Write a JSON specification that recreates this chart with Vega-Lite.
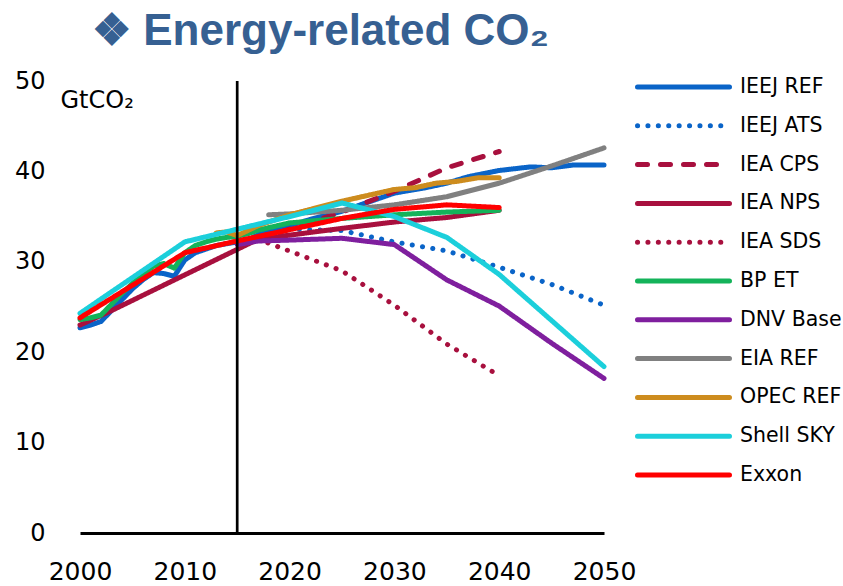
{
  "$schema": "https://vega.github.io/schema/vega-lite/v6.json",
  "width": 524,
  "height": 452,
  "autosize": {"type": "none"},
  "padding": {"left": 80, "top": 81, "right": 239, "bottom": 53},
  "background": "white",
  "title": {"text": "❖ Energy-related CO₂", "anchor": "start", "frame": "group", "font": "Liberation Sans", "fontSize": 44, "fontWeight": "bold", "color": "#366092", "baseline": "alphabetic", "offset": 24, "dx": 12, "dy": 44},
  "config": {"view": {"stroke": null}, "axis": {"grid": false, "ticks": false, "tickSize": 0, "labelFont": "DejaVu Sans", "labelColor": "#000", "titleColor": "#000"}},
  "layer": [
    {
      "data": {"values": [
        {"s": "IEEJ REF", "year": 2000, "v": 22.7}, {"s": "IEEJ REF", "year": 2001, "v": 23.0}, {"s": "IEEJ REF", "year": 2002, "v": 23.4}, {"s": "IEEJ REF", "year": 2003, "v": 24.6}, {"s": "IEEJ REF", "year": 2004, "v": 25.8}, {"s": "IEEJ REF", "year": 2005, "v": 27.0}, {"s": "IEEJ REF", "year": 2006, "v": 28.0}, {"s": "IEEJ REF", "year": 2007, "v": 28.8}, {"s": "IEEJ REF", "year": 2008, "v": 28.7}, {"s": "IEEJ REF", "year": 2009, "v": 28.4}, {"s": "IEEJ REF", "year": 2010, "v": 30.2}, {"s": "IEEJ REF", "year": 2011, "v": 31.0}, {"s": "IEEJ REF", "year": 2012, "v": 31.4}, {"s": "IEEJ REF", "year": 2013, "v": 31.8}, {"s": "IEEJ REF", "year": 2014, "v": 32.0}, {"s": "IEEJ REF", "year": 2015, "v": 32.2}, {"s": "IEEJ REF", "year": 2016, "v": 32.4}, {"s": "IEEJ REF", "year": 2017, "v": 33.0}, {"s": "IEEJ REF", "year": 2020, "v": 34.0}, {"s": "IEEJ REF", "year": 2022, "v": 34.7}, {"s": "IEEJ REF", "year": 2025, "v": 35.6}, {"s": "IEEJ REF", "year": 2028, "v": 36.8}, {"s": "IEEJ REF", "year": 2030, "v": 37.6}, {"s": "IEEJ REF", "year": 2033, "v": 38.2}, {"s": "IEEJ REF", "year": 2035, "v": 38.7}, {"s": "IEEJ REF", "year": 2037, "v": 39.4}, {"s": "IEEJ REF", "year": 2040, "v": 40.1}, {"s": "IEEJ REF", "year": 2043, "v": 40.5}, {"s": "IEEJ REF", "year": 2045, "v": 40.4}, {"s": "IEEJ REF", "year": 2047, "v": 40.7}, {"s": "IEEJ REF", "year": 2050, "v": 40.7},
        {"s": "IEEJ ATS", "year": 2017, "v": 33.0}, {"s": "IEEJ ATS", "year": 2020, "v": 33.6}, {"s": "IEEJ ATS", "year": 2025, "v": 33.45}, {"s": "IEEJ ATS", "year": 2030, "v": 32.2}, {"s": "IEEJ ATS", "year": 2035, "v": 31.2}, {"s": "IEEJ ATS", "year": 2040, "v": 29.4}, {"s": "IEEJ ATS", "year": 2045, "v": 27.5}, {"s": "IEEJ ATS", "year": 2050, "v": 25.2},
        {"s": "IEA CPS", "year": 2017, "v": 32.5}, {"s": "IEA CPS", "year": 2025, "v": 35.5}, {"s": "IEA CPS", "year": 2030, "v": 37.8}, {"s": "IEA CPS", "year": 2035, "v": 40.4}, {"s": "IEA CPS", "year": 2040, "v": 42.2},
        {"s": "IEA NPS", "year": 2000, "v": 23.0}, {"s": "IEA NPS", "year": 2003, "v": 24.6}, {"s": "IEA NPS", "year": 2017, "v": 32.5}, {"s": "IEA NPS", "year": 2025, "v": 33.7}, {"s": "IEA NPS", "year": 2030, "v": 34.4}, {"s": "IEA NPS", "year": 2035, "v": 34.9}, {"s": "IEA NPS", "year": 2040, "v": 35.7},
        {"s": "IEA SDS", "year": 2017, "v": 32.5}, {"s": "IEA SDS", "year": 2025, "v": 29.0}, {"s": "IEA SDS", "year": 2030, "v": 25.2}, {"s": "IEA SDS", "year": 2035, "v": 20.9}, {"s": "IEA SDS", "year": 2040, "v": 17.4},
        {"s": "BP ET", "year": 2000, "v": 23.6}, {"s": "BP ET", "year": 2001, "v": 23.8}, {"s": "BP ET", "year": 2002, "v": 24.1}, {"s": "BP ET", "year": 2003, "v": 25.3}, {"s": "BP ET", "year": 2004, "v": 26.5}, {"s": "BP ET", "year": 2005, "v": 27.6}, {"s": "BP ET", "year": 2006, "v": 28.6}, {"s": "BP ET", "year": 2007, "v": 29.5}, {"s": "BP ET", "year": 2008, "v": 29.8}, {"s": "BP ET", "year": 2009, "v": 29.3}, {"s": "BP ET", "year": 2010, "v": 31.0}, {"s": "BP ET", "year": 2011, "v": 31.8}, {"s": "BP ET", "year": 2012, "v": 32.2}, {"s": "BP ET", "year": 2013, "v": 32.5}, {"s": "BP ET", "year": 2014, "v": 32.7}, {"s": "BP ET", "year": 2015, "v": 32.8}, {"s": "BP ET", "year": 2016, "v": 33.1}, {"s": "BP ET", "year": 2017, "v": 33.5}, {"s": "BP ET", "year": 2020, "v": 34.3}, {"s": "BP ET", "year": 2025, "v": 34.8}, {"s": "BP ET", "year": 2030, "v": 35.2}, {"s": "BP ET", "year": 2035, "v": 35.5}, {"s": "BP ET", "year": 2040, "v": 35.7},
        {"s": "DNV Base", "year": 2015, "v": 31.9}, {"s": "DNV Base", "year": 2017, "v": 32.3}, {"s": "DNV Base", "year": 2020, "v": 32.4}, {"s": "DNV Base", "year": 2025, "v": 32.6}, {"s": "DNV Base", "year": 2030, "v": 31.9}, {"s": "DNV Base", "year": 2035, "v": 28.0}, {"s": "DNV Base", "year": 2040, "v": 25.1}, {"s": "DNV Base", "year": 2045, "v": 21.0}, {"s": "DNV Base", "year": 2050, "v": 17.1},
        {"s": "EIA REF", "year": 2018, "v": 35.2}, {"s": "EIA REF", "year": 2020, "v": 35.3}, {"s": "EIA REF", "year": 2025, "v": 35.7}, {"s": "EIA REF", "year": 2030, "v": 36.3}, {"s": "EIA REF", "year": 2035, "v": 37.2}, {"s": "EIA REF", "year": 2040, "v": 38.7}, {"s": "EIA REF", "year": 2045, "v": 40.6}, {"s": "EIA REF", "year": 2050, "v": 42.6},
        {"s": "OPEC REF", "year": 2013, "v": 33.2}, {"s": "OPEC REF", "year": 2014, "v": 33.3}, {"s": "OPEC REF", "year": 2015, "v": 32.9}, {"s": "OPEC REF", "year": 2017, "v": 34.0}, {"s": "OPEC REF", "year": 2020, "v": 35.2}, {"s": "OPEC REF", "year": 2025, "v": 36.7}, {"s": "OPEC REF", "year": 2030, "v": 38.0}, {"s": "OPEC REF", "year": 2032, "v": 38.2}, {"s": "OPEC REF", "year": 2034, "v": 38.7}, {"s": "OPEC REF", "year": 2036, "v": 38.9}, {"s": "OPEC REF", "year": 2038, "v": 39.3}, {"s": "OPEC REF", "year": 2040, "v": 39.3},
        {"s": "Shell SKY", "year": 2000, "v": 24.3}, {"s": "Shell SKY", "year": 2010, "v": 32.2}, {"s": "Shell SKY", "year": 2015, "v": 33.6}, {"s": "Shell SKY", "year": 2020, "v": 35.0}, {"s": "Shell SKY", "year": 2025, "v": 36.5}, {"s": "Shell SKY", "year": 2030, "v": 35.0}, {"s": "Shell SKY", "year": 2035, "v": 32.7}, {"s": "Shell SKY", "year": 2040, "v": 28.6}, {"s": "Shell SKY", "year": 2050, "v": 18.4},
        {"s": "Exxon", "year": 2000, "v": 23.8}, {"s": "Exxon", "year": 2010, "v": 31.0}, {"s": "Exxon", "year": 2015, "v": 32.3}, {"s": "Exxon", "year": 2017, "v": 32.8}, {"s": "Exxon", "year": 2025, "v": 34.8}, {"s": "Exxon", "year": 2030, "v": 35.8}, {"s": "Exxon", "year": 2035, "v": 36.3}, {"s": "Exxon", "year": 2040, "v": 36.0}
      ]},
      "mark": {"type": "line", "strokeWidth": 5, "strokeCap": "round", "strokeJoin": "round"},
      "encoding": {
        "x": {"field": "year", "type": "quantitative", "scale": {"domain": [2000, 2050]},
          "axis": {"values": [2000, 2010, 2020, 2030, 2040, 2050], "format": "d", "domain": true, "domainColor": "#000", "domainWidth": 3, "labelFontSize": 25, "labelPadding": 26, "labelFlush": false, "title": null}},
        "y": {"field": "v", "type": "quantitative", "scale": {"domain": [0, 50]},
          "axis": {"values": [0, 10, 20, 30, 40, 50], "domain": false, "labelFontSize": 24, "labelPadding": 35, "title": "GtCO₂", "titleAngle": 0, "titleX": -20, "titleY": 26, "titleAlign": "left", "titleBaseline": "alphabetic", "titleFont": "DejaVu Sans", "titleFontSize": 24, "titleFontWeight": "normal"}},
        "color": {"field": "s", "type": "nominal",
          "scale": {"domain": ["IEEJ REF", "IEEJ ATS", "IEA CPS", "IEA NPS", "IEA SDS", "BP ET", "DNV Base", "EIA REF", "OPEC REF", "Shell SKY", "Exxon"],
                    "range": ["#0A64C8", "#0A64C8", "#A8103E", "#A8103E", "#A8103E", "#14B35A", "#7F1F9E", "#808080", "#CD8C1E", "#1CCFDB", "#FF0000"]},
          "legend": {"orient": "none", "legendX": 555, "legendY": -5, "title": null, "padding": 0, "symbolType": "stroke", "symbolSize": 8464, "symbolStrokeWidth": 5, "labelFont": "DejaVu Sans", "labelFontSize": 20.5, "labelColor": "#000", "labelOffset": 8, "clipHeight": 22, "rowPadding": 16.8, "encoding": {"symbols": {"strokeCap": {"value": "round"}}}}},
        "strokeDash": {"field": "s", "type": "nominal",
          "scale": {"domain": ["IEEJ REF", "IEEJ ATS", "IEA CPS", "IEA NPS", "IEA SDS", "BP ET", "DNV Base", "EIA REF", "OPEC REF", "Shell SKY", "Exxon"],
                    "range": [[1, 0], [0.1, 10.3], [10, 13], [1, 0], [0.1, 10.3], [1, 0], [1, 0], [1, 0], [1, 0], [1, 0], [1, 0]]},
          "legend": {"orient": "none", "legendX": 555, "legendY": -5, "title": null, "padding": 0, "symbolType": "stroke", "symbolSize": 8464, "symbolStrokeWidth": 5, "labelFont": "DejaVu Sans", "labelFontSize": 20.5, "labelColor": "#000", "labelOffset": 8, "clipHeight": 22, "rowPadding": 16.8, "encoding": {"symbols": {"strokeCap": {"value": "round"}}}}}
      }
    },
    {
      "data": {"values": [{"year": 2015}]},
      "mark": {"type": "rule", "color": "#000", "strokeWidth": 2.7},
      "encoding": {"x": {"field": "year", "type": "quantitative"}}
    }
  ]
}
